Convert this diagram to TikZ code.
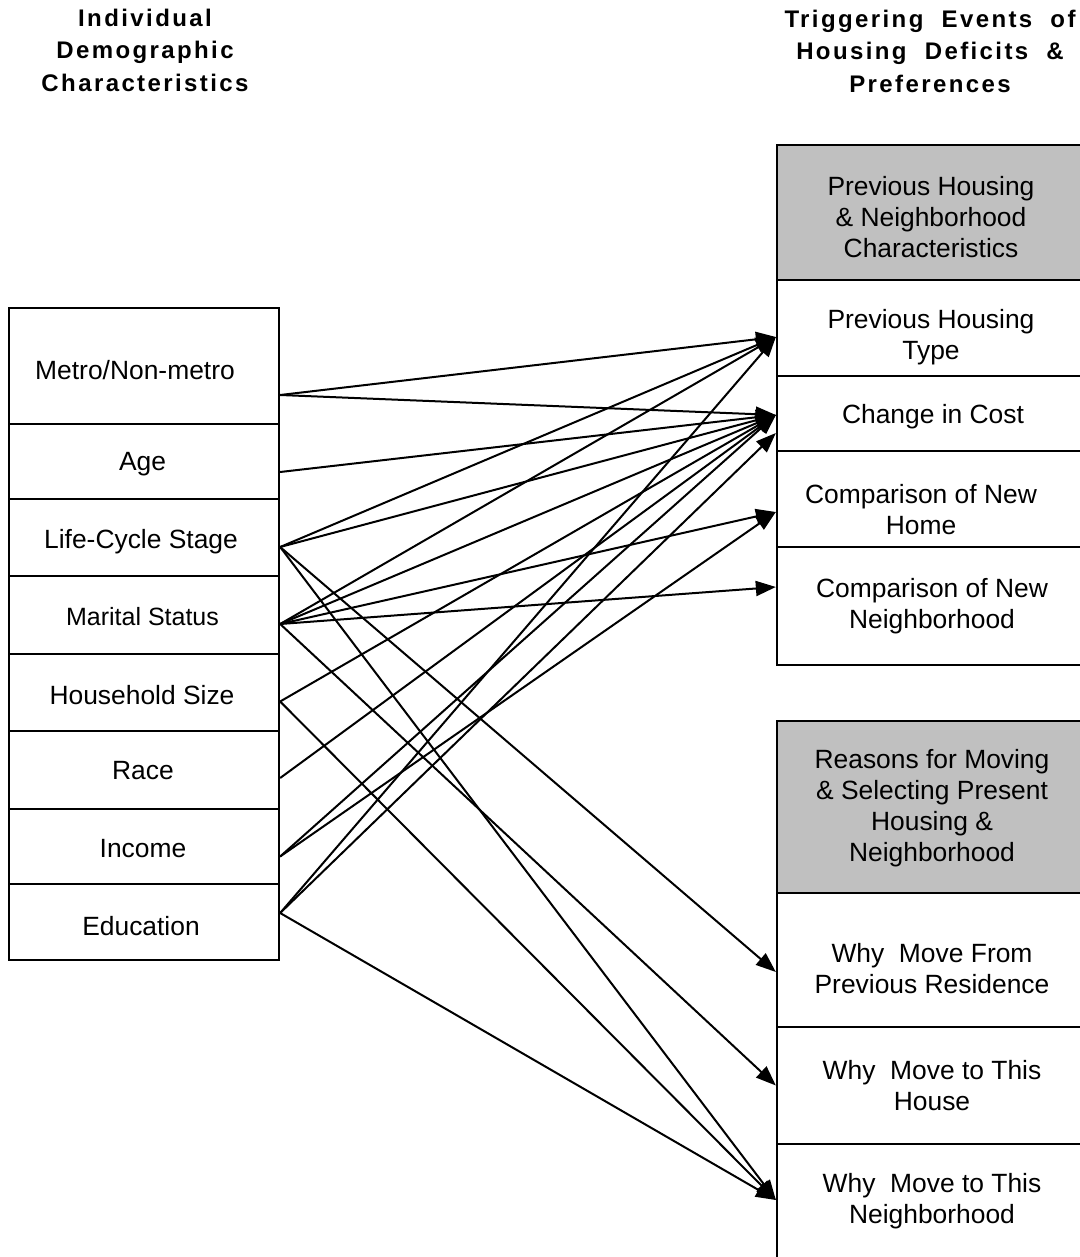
\documentclass[tikz,border=0pt]{standalone}
\usepackage{fontspec}
\setmainfont{Liberation Sans}
\newfontfamily\headfont[LetterSpace=10]{Liberation Sans Bold}
\usetikzlibrary{arrows.meta}
\definecolor{headgray}{RGB}{192,192,192}

\begin{document}
\begin{tikzpicture}[x=0.5pt,y=-0.5pt,
  cell/.style={draw, line width=1.15pt, rectangle, inner sep=0pt},
  leftcell/.style={cell, minimum width=135pt},
  rightcell/.style={cell, minimum width=153pt},
  headcell/.style={rightcell, fill=headgray},
  celltext/.style={align=center, inner sep=0pt, font=\fontsize{13.2}{15.5}\selectfont},
  title/.style={align=center, inner sep=0pt,
    font=\headfont\fontsize{12}{16.25}\selectfont},
  link/.style={line width=1pt, -{Triangle[length=10pt,width=7.5pt]}},
]
\clip (0,0) rectangle (1080,1257);

% column titles
\node[title] (lefthead) at (145,50) {Individual\\Demographic\\Characteristics};
\node[title] (righthead) at (930,51) {Triggering\ \ Events\ \ of\\Housing\ \ Deficits\ \ \&\\Preferences};

% demographic characteristics
\node[leftcell, minimum height=58pt]   (metro)     at (144,366)   {};
\node[leftcell, minimum height=37.5pt] (age)       at (144,461.5) {};
\node[leftcell, minimum height=38.5pt] (lcs)       at (144,537.5) {};
\node[leftcell, minimum height=39pt]   (marital)   at (144,615)   {};
\node[leftcell, minimum height=38.5pt] (household) at (144,692.5) {};
\node[leftcell, minimum height=39pt]   (race)      at (144,770)   {};
\node[leftcell, minimum height=37.5pt] (income)    at (144,846.5) {};
\node[leftcell, minimum height=38pt]   (education) at (144,922)   {};

\node[celltext] (metro-t)     at (135,370)   {Metro/Non-metro};
\node[celltext] (age-t)       at (142.5,464) {Age};
\node[celltext] (lcs-t)       at (141,542)   {Life-Cycle Stage};
\node[celltext, font=\fontsize{12.5}{15}\selectfont]
                (marital-t)   at (142.5,617) {Marital Status};
\node[celltext] (household-t) at (142,695)   {Household Size};
\node[celltext] (race-t)      at (143,771)   {Race};
\node[celltext] (income-t)    at (143,849)   {Income};
\node[celltext] (education-t) at (141,926)   {Education};

% housing deficits and preferences
\node[headcell, minimum height=67.5pt] (head1) at (930,212.5) {};
\node[rightcell, minimum height=48pt]   (ptype) at (930,328)   {};
\node[rightcell, minimum height=37.5pt] (cost)  at (930,413.5) {};
\node[rightcell, minimum height=48pt]   (home)  at (930,499)   {};
\node[rightcell, minimum height=59pt]   (ncomp) at (930,606)   {};

\node[celltext] (head1-t) at (931,217)   {Previous Housing\\\& Neighborhood\\Characteristics};
\node[celltext] (ptype-t) at (931,337.5) {Previous Housing\\Type};
\node[celltext] (cost-t)  at (933,417)   {Change in Cost};
\node[celltext] (home-t)  at (921,510)   {Comparison of New\\Home};
\node[celltext] (ncomp-t) at (932,606)   {Comparison of New\\Neighborhood};

% reasons for moving
\node[headcell, minimum height=86pt]    (head2)    at (930,807)    {};
\node[rightcell, minimum height=67pt]   (whyfrom)  at (930,960)    {};
\node[rightcell, minimum height=58.5pt] (whyhouse) at (930,1085.5) {};
\node[rightcell, minimum height=59pt]   (whyneigh) at (930,1203)   {};

\node[celltext] (head2-t)    at (932,808)  {Reasons for Moving\\\& Selecting Present\\Housing \&\\Neighborhood};
\node[celltext] (whyfrom-t)  at (932,969)  {Why\ \ Move From\\Previous Residence};
\node[celltext] (whyhouse-t) at (932,1086) {Why\ \ Move to This\\House};
\node[celltext] (whyneigh-t) at (932,1201) {Why\ \ Move to This\\Neighborhood};

% connector ends
\coordinate (metro-o)     at ([yshift=-14.5pt]metro.east);
\coordinate (age-o)       at ([yshift=-5.25pt]age.east);
\coordinate (lcs-o)       at ([yshift=-4.75pt]lcs.east);
\coordinate (marital-o)   at ([yshift=-4.5pt]marital.east);
\coordinate (household-o) at ([yshift=-4.5pt]household.east);
\coordinate (race-o)      at ([yshift=-4pt]race.east);
\coordinate (income-o)    at ([yshift=-5pt]income.east);
\coordinate (education-o) at ([yshift=4.5pt]education.east);

\coordinate (ptype-i)    at ([yshift=-4.5pt]ptype.west);
\coordinate (cost-i)     at ([yshift=-0.75pt]cost.west);
\coordinate (cost2-i)    at ([yshift=-9.75pt]cost.west);
\coordinate (home-i)     at ([yshift=-6.5pt]home.west);
\coordinate (ncomp-i)    at ([yshift=9.5pt]ncomp.west);
\coordinate (whyfrom-i)  at ([yshift=-6pt]whyfrom.west);
\coordinate (whyhouse-i) at (whyhouse.west);
\coordinate (whyneigh-i) at ([yshift=1.5pt]whyneigh.west);

% influences
\draw[link] (metro-o) -- (ptype-i);
\draw[link] (metro-o) -- (cost-i);
\draw[link] (age-o) -- (cost-i);
\draw[link] (lcs-o) -- (ptype-i);
\draw[link] (lcs-o) -- (cost-i);
\draw[link] (lcs-o) -- (whyfrom-i);
\draw[link] (lcs-o) -- (whyneigh-i);
\draw[link] (marital-o) -- (ptype-i);
\draw[link] (marital-o) -- (cost-i);
\draw[link] (marital-o) -- (home-i);
\draw[link] (marital-o) -- (ncomp-i);
\draw[link] (marital-o) -- (whyhouse-i);
\draw[link] (household-o) -- (cost-i);
\draw[link] (household-o) -- (whyneigh-i);
\draw[link] (race-o) -- (cost-i);
\draw[link] (income-o) -- (cost-i);
\draw[link] (income-o) -- (home-i);
\draw[link] (education-o) -- (ptype-i);
\draw[link] (education-o) -- (cost2-i);
\draw[link] (education-o) -- (whyneigh-i);
\end{tikzpicture}
\end{document}
